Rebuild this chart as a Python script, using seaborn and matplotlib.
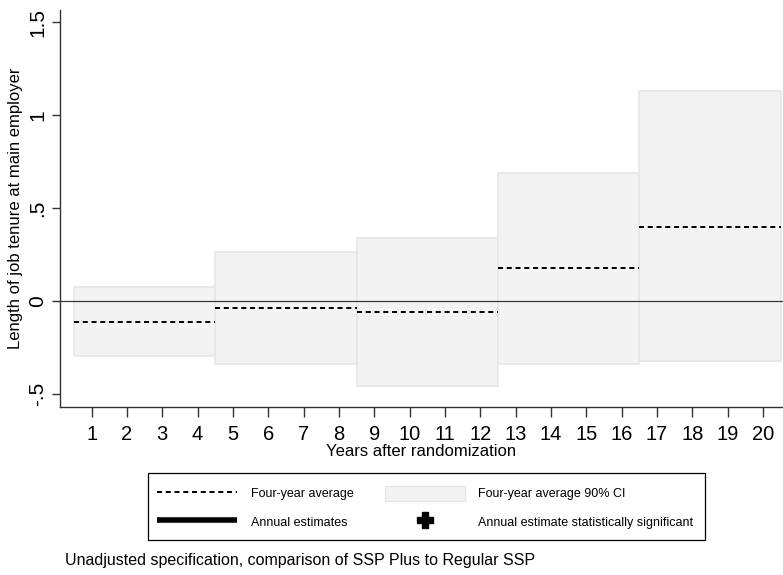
import numpy as np
import pandas as pd
import matplotlib
matplotlib.use("Agg")
import matplotlib.pyplot as plt
from matplotlib.lines import Line2D
from matplotlib.patches import Patch, Rectangle
import seaborn as sns

# Four-year blocks of years after randomization
block_start = [1, 5, 9, 13, 17]
block_end = [4, 8, 12, 16, 20]
# Four-year average effect and its 90% confidence interval
avg_effect = [-0.113, -0.039, -0.057, 0.175, 0.400]
ci_low = [-0.296, -0.339, -0.457, -0.340, -0.323]
ci_high = [0.075, 0.263, 0.340, 0.690, 1.127]

years = list(range(1, 21))
y_ticks = [-0.5, 0, 0.5, 1, 1.5]
y_tick_labels = ["-.5", "0", ".5", "1", "1.5"]

sns.set_theme(style="ticks")
plt.rcParams["font.family"] = ["Liberation Sans", "DejaVu Sans"]
plt.rcParams["text.color"] = "black"
plt.rcParams["axes.labelcolor"] = "black"
plt.rcParams["xtick.color"] = "black"
plt.rcParams["ytick.color"] = "black"

W, H = 783, 575
fig = plt.figure(figsize=(W / 100, H / 100), dpi=100)
ax = fig.add_axes([60 / W, 1 - 407 / H, 1 - 60 / W, (407 - 10) / H])

box_fill = "#f3f3f3"
box_edge = "#e6e6e6"

# Confidence-interval boxes spanning each four-year block
mid = [(s + e) / 2 for s, e in zip(block_start, block_end)]
width = [e - s + 1 for s, e in zip(block_start, block_end)]
ax.bar(mid, np.array(ci_high) - np.array(ci_low), bottom=ci_low, width=width,
       color=box_fill, edgecolor=box_edge, linewidth=1.2, zorder=1)

# Zero reference line
ax.axhline(0, color="#3a3a3a", linewidth=0.9, zorder=2)

# Dashed four-year averages, one segment per block
seg = pd.DataFrame({
    "year": [v for s, e in zip(block_start, block_end) for v in (s - 0.5, e + 0.5)],
    "effect": [m for m in avg_effect for _ in range(2)],
    "block": [i for i in range(len(avg_effect)) for _ in range(2)],
})
sns.lineplot(data=seg, x="year", y="effect", units="block", estimator=None,
             color="black", linewidth=1.4, dashes=False, ax=ax, zorder=3)
for ln in ax.lines[1:]:
    ln.set_dashes((2.6, 1.9))

ax.set_xlim(0.105, 20.57)
ax.set_ylim(-0.57, 1.565)
ax.set_xticks(years)
ax.set_xticklabels([str(y) for y in years], fontsize=14.5)
ax.set_yticks(y_ticks)
ax.set_yticklabels(y_tick_labels, fontsize=15, rotation=90, va="center")
ax.tick_params(axis="x", length=7, width=1, color="#333333", labelcolor="black", pad=6)
ax.tick_params(axis="y", length=6, width=1, color="#333333", labelcolor="black", pad=3)

for side in ("top", "right"):
    ax.spines[side].set_visible(False)
for side in ("left", "bottom"):
    ax.spines[side].set_color("#333333")
    ax.spines[side].set_linewidth(1.0)

ax.set_xlabel("Years after randomization", fontsize=12, labelpad=0, color="black")
ax.set_ylabel("Length of job tenure at main employer", fontsize=12, labelpad=4,
              color="black")
ax.grid(False)

# Legend entries in a 2x2 grid with a plain rectangular frame
handles = [
    Line2D([], [], color="black", linewidth=1.4, dashes=(2.6, 1.9)),
    Line2D([], [], color="black", linewidth=4, solid_capstyle="butt"),
    Patch(facecolor=box_fill, edgecolor=box_edge, linewidth=1.0),
    Line2D([], [], color="black", marker="P", markersize=11, linestyle="none"),
]
labels = ["Four-year average", "Annual estimates",
          "Four-year average 90% CI", "Annual estimate statistically significant"]
leg = fig.legend(handles, labels, ncol=2, loc="center left",
                 bbox_to_anchor=(150 / W, 1 - 507.5 / H), borderaxespad=0,
                 fontsize=9, frameon=False,
                 handlelength=6.4, handleheight=1.5, handletextpad=1.1,
                 columnspacing=2.5, labelspacing=1.05, borderpad=0.56)
for t in leg.get_texts():
    t.set_color("black")
fig.add_artist(Rectangle((148 / W, 1 - 540 / H), (705 - 148) / W, (540 - 473) / H,
                         transform=fig.transFigure, fill=False,
                         edgecolor="black", linewidth=0.9))

fig.text(65 / W, 1 - 560 / H,
         "Unadjusted specification, comparison of SSP Plus to Regular SSP",
         fontsize=11.5, ha="left", va="center", color="black")

fig.savefig("out.png", dpi=100, facecolor="white")
